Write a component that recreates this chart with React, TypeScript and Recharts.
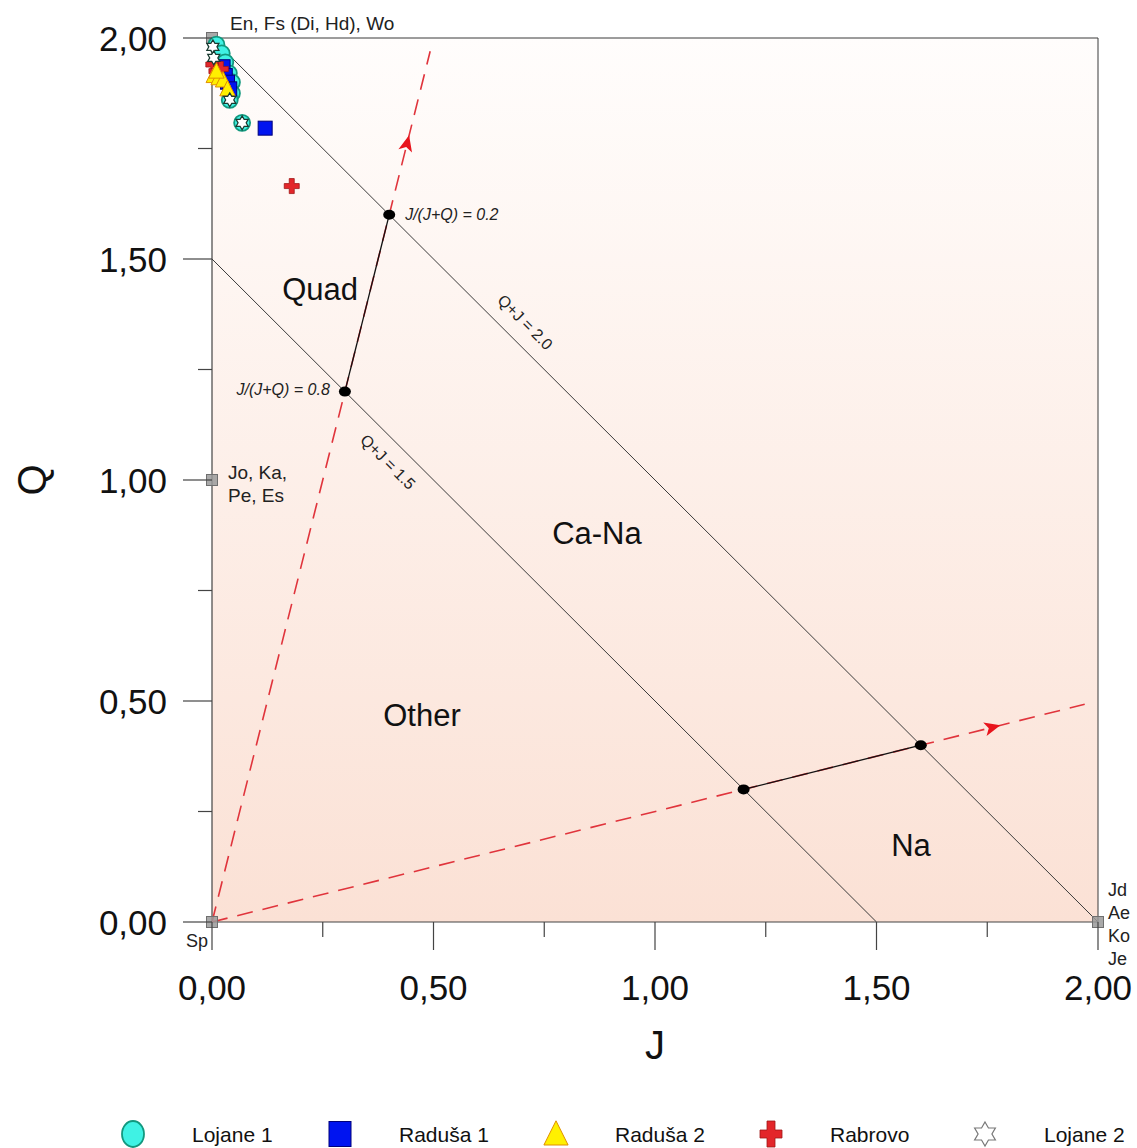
import React from 'react'
import { ScatterChart, Scatter, XAxis, YAxis, CartesianGrid } from 'recharts'

const FONT = '"Liberation Sans", Arial, Helvetica, sans-serif'

// axis ticks (every 0,25 - labelled every 0,50)
const jTicks = [0, 0.25, 0.5, 0.75, 1, 1.25, 1.5, 1.75, 2]
const qTicks = [0, 0.25, 0.5, 0.75, 1, 1.25, 1.5, 1.75, 2]

// pyroxene compositions (J, Q)
const lojane1 = [
  { J: 0.01, Q: 1.985 }, { J: 0.022, Q: 1.965 }, { J: 0.03, Q: 1.945 }, { J: 0.038, Q: 1.92 },
  { J: 0.045, Q: 1.9 }, { J: 0.045, Q: 1.875 }, { J: 0.04, Q: 1.86 }, { J: 0.068, Q: 1.808 },
]
const radusa1 = [
  { J: 0.025, Q: 1.935 }, { J: 0.03, Q: 1.915 }, { J: 0.035, Q: 1.9 }, { J: 0.04, Q: 1.885 },
  { J: 0.12, Q: 1.796 },
]
const rabrovo = [
  { J: 0.003, Q: 1.94 }, { J: 0.01, Q: 1.925 }, { J: 0.02, Q: 1.93 }, { J: 0.18, Q: 1.665 },
]
const radusa2 = [
  { J: 0.004, Q: 1.915 }, { J: 0.015, Q: 1.91 }, { J: 0.025, Q: 1.905 }, { J: 0.035, Q: 1.885 },
  { J: 0.01, Q: 1.925 },
]
const lojane2 = [
  { J: 0.002, Q: 1.98 }, { J: 0.004, Q: 1.955 }, { J: 0.04, Q: 1.86 }, { J: 0.068, Q: 1.808 },
]

// classification lines
const boxTop = [{ J: 0, Q: 2 }, { J: 2, Q: 2 }]
const boxRight = [{ J: 2, Q: 2 }, { J: 2, Q: 0 }]
const lineSum20 = [{ J: 0, Q: 2 }, { J: 2, Q: 0 }]
const lineSum15 = [{ J: 0, Q: 1.5 }, { J: 1.5, Q: 0 }]
const ratio02 = [{ J: 0, Q: 0 }, { J: 0.4925, Q: 1.97 }]
const ratio08 = [{ J: 0, Q: 0 }, { J: 1.97, Q: 0.4925 }]
const quadBoundary = [{ J: 0.4, Q: 1.6 }, { J: 0.3, Q: 1.2 }]
const naBoundary = [{ J: 1.2, Q: 0.3 }, { J: 1.6, Q: 0.4 }]
const nodes = [{ J: 0.4, Q: 1.6 }, { J: 0.3, Q: 1.2 }, { J: 1.2, Q: 0.3 }, { J: 1.6, Q: 0.4 }]
const arrows = [{ J: 0.44, Q: 1.76 }, { J: 1.76, Q: 0.44 }]

// end members
const endMembers = [
  { J: 0, Q: 2, names: ['En, Fs (Di, Hd), Wo'] },
  { J: 0, Q: 1, names: ['Jo, Ka,', 'Pe, Es'] },
  { J: 0, Q: 0, names: ['Sp'] },
  { J: 2, Q: 0, names: ['Jd', 'Ae', 'Ko', 'Je'] },
]

const regionLabels = [
  { J: 0.244, Q: 1.43, text: 'Quad' },
  { J: 0.869, Q: 0.88, text: 'Ca-Na' },
  { J: 0.474, Q: 0.468, text: 'Other' },
  { J: 1.578, Q: 0.174, text: 'Na' },
]
const ratioLabelRight = [{ J: 0.436, Q: 1.6, text: 'J/(J+Q) = 0.2' }]
const ratioLabelLeft = [{ J: 0.266, Q: 1.204, text: 'J/(J+Q) = 0.8' }]
const sumLabels = [
  { J: 0.707, Q: 1.357, text: 'Q+J = 2.0' },
  { J: 0.397, Q: 1.041, text: 'Q+J = 1.5' },
]

const seriesNames = ['Lojane 1', 'Raduša 1', 'Raduša 2', 'Rabrovo', 'Lojane 2']

const fmt = (v: number) => v.toFixed(2).replace('.', ',')
const isMajor = (v: number) => Math.abs(v * 2 - Math.round(v * 2)) < 1e-9

function starPath(cx: number, cy: number, r: number) {
  const pts = []
  for (let k = 0; k < 12; k++) {
    const a = ((-90 + k * 30) * Math.PI) / 180
    const rr = k % 2 === 0 ? r : r * 0.577
    pts.push(`${(cx + rr * Math.cos(a)).toFixed(2)},${(cy + rr * Math.sin(a)).toFixed(2)}`)
  }
  return 'M' + pts.join('L') + 'Z'
}

const Circle = ({ cx, cy, rx = 8, ry = 8 }: any) => (
  <ellipse cx={cx} cy={cy} rx={rx} ry={ry} fill="#3ff2e4" stroke="#12987e" strokeWidth={1.8} />
)
const Square = ({ cx, cy, w = 14, h = 14 }: any) => (
  <rect x={cx - w / 2} y={cy - h / 2} width={w} height={h} fill="#0014f0" stroke="#00007a" strokeWidth={1} />
)
const Triangle = ({ cx, cy, s = 14 }: any) => (
  <path d={`M${cx},${cy - s * 0.6} L${cx + s * 0.55},${cy + s * 0.5} L${cx - s * 0.55},${cy + s * 0.5} Z`} fill="#fff000" stroke="#e09000" strokeWidth={1} />
)
const Cross = ({ cx, cy, w = 15, h = 15, t = 5 }: any) => (
  <path
    d={`M${cx - t / 2},${cy - h / 2} h${t} v${(h - t) / 2} h${(w - t) / 2} v${t} h${-(w - t) / 2} v${(h - t) / 2} h${-t} v${-(h - t) / 2} h${-(w - t) / 2} v${-t} h${(w - t) / 2} Z`}
    fill="#e3262a" stroke="#a01818" strokeWidth={0.8}
  />
)
const Star = ({ cx, cy, r = 7, stroke = '#1a3a30' }: any) => (
  <path d={starPath(cx, cy, r)} fill="#ffffff" stroke={stroke} strokeWidth={1.2} />
)

const none = () => <g />

const renderNode = (p: any) => <ellipse cx={p.cx} cy={p.cy} rx={6} ry={5} fill="#000" />

const renderArrow = (p: any) => {
  const ang = (Math.atan2(-p.payload.Q, p.payload.J) * 180) / Math.PI
  return (
    <path
      d="M9,0 L-7,-7 L-3,0 L-7,7 Z"
      fill="#e8141c"
      transform={`translate(${p.cx},${p.cy}) rotate(${ang})`}
    />
  )
}

const renderEndMember = (p: any) => {
  const { cx, cy, payload } = p
  const { J, Q, names } = payload
  const txt = { fontFamily: FONT, fill: '#222' }
  let labels: React.ReactNode = null
  if (J === 0 && Q === 2) {
    labels = <text x={cx + 18} y={cy - 8} fontSize={19} {...txt}>{names[0]}</text>
  } else if (J === 0 && Q === 1) {
    labels = names.map((n: string, i: number) => (
      <text key={n} x={cx + 16} y={cy - 1 + i * 23} fontSize={19} {...txt}>{n}</text>
    ))
  } else if (J === 0 && Q === 0) {
    labels = <text x={cx - 4} y={cy + 25} fontSize={18} textAnchor="end" {...txt}>{names[0]}</text>
  } else {
    labels = names.map((n: string, i: number) => (
      <text key={n} x={cx + 10} y={cy - 26 + i * 23} fontSize={18} {...txt}>{n}</text>
    ))
  }
  return (
    <g>
      <rect x={cx - 5.5} y={cy - 5.5} width={11} height={11} fill="#9a9a9a" fillOpacity={0.85} stroke="#6f6f6f" strokeWidth={1} />
      {labels}
    </g>
  )
}

const renderRegion = (p: any) => (
  <text x={p.cx} y={p.cy} textAnchor="middle" dominantBaseline="central" fontSize={31} fontFamily={FONT} fill="#111">
    {p.payload.text}
  </text>
)
const renderRatioRight = (p: any) => (
  <text x={p.cx} y={p.cy} dominantBaseline="central" fontSize={16} fontStyle="italic" fontFamily={FONT} fill="#222">
    {p.payload.text}
  </text>
)
const renderRatioLeft = (p: any) => (
  <text x={p.cx} y={p.cy} textAnchor="end" dominantBaseline="central" fontSize={16} fontStyle="italic" fontFamily={FONT} fill="#222">
    {p.payload.text}
  </text>
)
const renderSumLabel = (p: any) => (
  <text
    x={p.cx}
    y={p.cy}
    textAnchor="middle"
    dominantBaseline="central"
    fontSize={16}
    fontFamily={FONT}
    fill="#222"
    transform={`rotate(45, ${p.cx}, ${p.cy})`}
  >
    {p.payload.text}
  </text>
)

const XTick = (props: any) => {
  const { x, y, payload } = props
  const v = payload.value
  const major = isMajor(v)
  return (
    <g>
      <line x1={x} y1={y} x2={x} y2={y + (major ? 28 : 15)} stroke="#444" strokeWidth={1.2} />
      {major && (
        <text x={x} y={y + 78} textAnchor="middle" fontSize={35} fontFamily={FONT} fill="#111">
          {fmt(v)}
        </text>
      )}
    </g>
  )
}

const YTick = (props: any) => {
  const { x, y, payload } = props
  const v = payload.value
  const major = isMajor(v)
  return (
    <g>
      <line x1={x - (major ? 29 : 14)} y1={y} x2={x} y2={y} stroke="#444" strokeWidth={1.2} />
      {major && (
        <text x={x - 45} y={y + 12.5} textAnchor="end" fontSize={35} fontFamily={FONT} fill="#111">
          {fmt(v)}
        </text>
      )}
    </g>
  )
}

const legendShapes = [
  (cx: number, cy: number) => <Circle cx={cx} cy={cy} rx={11} ry={13} />,
  (cx: number, cy: number) => <Square cx={cx} cy={cy} w={22} h={25} />,
  (cx: number, cy: number) => <Triangle cx={cx} cy={cy} s={22} />,
  (cx: number, cy: number) => <Cross cx={cx} cy={cy} w={22} h={26} t={8} />,
  (cx: number, cy: number) => <Star cx={cx} cy={cy} r={12} stroke="#777" />,
]
const legendX = [133, 340, 556, 771, 985]

function ChartLegend() {
  return (
    <svg width={1137} height={40} style={{ position: 'absolute', left: 0, top: 1114 }}>
      {seriesNames.map((name, i) => (
        <g key={name}>
          {legendShapes[i](legendX[i], 20)}
          <text x={legendX[i] + 59} y={20} dominantBaseline="central" fontSize={21} fontFamily={FONT} fill="#111">
            {name}
          </text>
        </g>
      ))}
    </svg>
  )
}

export default function App() {
  const thin = { stroke: '#3a3a3a', strokeWidth: 1 }
  const redDash = { stroke: '#e0343c', strokeWidth: 1.6, strokeDasharray: '16 10' }
  const black = { stroke: '#111', strokeWidth: 1.3 }
  return (
    <div style={{ position: 'absolute', left: 0, top: 0, width: 1137, height: 1148, background: '#fff' }}>
      <ScatterChart width={1137} height={1148} margin={{ top: 38, right: 39, bottom: 100, left: 0 }}>
        <defs>
          <linearGradient id="bgGrad" x1="0" y1="0" x2="0" y2="1">
            <stop offset="0%" stopColor="#fffdfc" />
            <stop offset="100%" stopColor="#fbe1d5" />
          </linearGradient>
        </defs>
        <CartesianGrid horizontal={false} vertical={false} fill="url(#bgGrad)" stroke="none" />
        <XAxis
          type="number"
          dataKey="J"
          domain={[0, 2]}
          ticks={jTicks}
          interval={0}
          tickLine={false}
          tickSize={0}
          tickMargin={0}
          height={126}
          axisLine={{ stroke: '#444', strokeWidth: 1.2 }}
          tick={<XTick />}
          label={(lp: any) => {
            const vb = lp.viewBox
            return (
              <text x={vb.x + vb.width / 2} y={vb.y + 137} textAnchor="middle" fontSize={40} fontFamily={FONT} fill="#111">
                J
              </text>
            )
          }}
        />
        <YAxis
          type="number"
          dataKey="Q"
          domain={[0, 2]}
          ticks={qTicks}
          interval={0}
          tickLine={false}
          tickSize={0}
          tickMargin={0}
          width={212}
          axisLine={{ stroke: '#444', strokeWidth: 1.2 }}
          tick={<YTick />}
          label={(lp: any) => {
            const vb = lp.viewBox
            const x = vb.x + 46
            const y = vb.y + vb.height / 2
            return (
              <text x={x} y={y} textAnchor="middle" fontSize={40} fontFamily={FONT} fill="#111" transform={`rotate(-90, ${x}, ${y})`}>
                Q
              </text>
            )
          }}
        />

        <Scatter data={boxTop} line={thin} lineType="joint" shape={none} isAnimationActive={false} />
        <Scatter data={boxRight} line={thin} lineType="joint" shape={none} isAnimationActive={false} />
        <Scatter data={lineSum20} line={thin} lineType="joint" shape={none} isAnimationActive={false} />
        <Scatter data={lineSum15} line={thin} lineType="joint" shape={none} isAnimationActive={false} />
        <Scatter data={ratio02} line={redDash} lineType="joint" shape={none} isAnimationActive={false} />
        <Scatter data={ratio08} line={redDash} lineType="joint" shape={none} isAnimationActive={false} />
        <Scatter data={quadBoundary} line={black} lineType="joint" shape={none} isAnimationActive={false} />
        <Scatter data={naBoundary} line={black} lineType="joint" shape={none} isAnimationActive={false} />
        <Scatter data={arrows} shape={renderArrow} isAnimationActive={false} />
        <Scatter data={nodes} shape={renderNode} isAnimationActive={false} />

        <Scatter data={regionLabels} shape={renderRegion} isAnimationActive={false} />
        <Scatter data={ratioLabelRight} shape={renderRatioRight} isAnimationActive={false} />
        <Scatter data={ratioLabelLeft} shape={renderRatioLeft} isAnimationActive={false} />
        <Scatter data={sumLabels} shape={renderSumLabel} isAnimationActive={false} />
        <Scatter data={endMembers} shape={renderEndMember} isAnimationActive={false} />

        <Scatter name="Lojane 1" data={lojane1} shape={(p: any) => <Circle cx={p.cx} cy={p.cy} />} isAnimationActive={false} />
        <Scatter name="Raduša 1" data={radusa1} shape={(p: any) => <Square cx={p.cx} cy={p.cy} />} isAnimationActive={false} />
        <Scatter name="Rabrovo" data={rabrovo} shape={(p: any) => <Cross cx={p.cx} cy={p.cy} />} isAnimationActive={false} />
        <Scatter name="Raduša 2" data={radusa2} shape={(p: any) => <Triangle cx={p.cx} cy={p.cy} />} isAnimationActive={false} />
        <Scatter name="Lojane 2" data={lojane2} shape={(p: any) => <Star cx={p.cx} cy={p.cy} />} isAnimationActive={false} />
      </ScatterChart>
      <ChartLegend />
    </div>
  )
}
